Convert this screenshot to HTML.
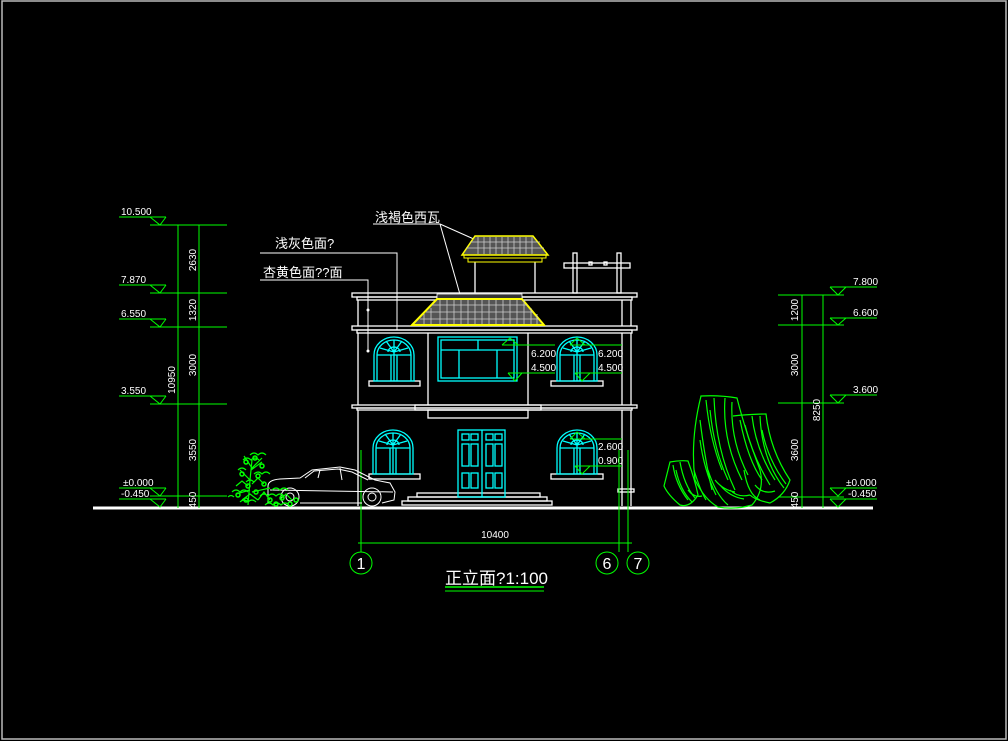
<!DOCTYPE html>
<html><head><meta charset="utf-8"><style>
html,body{margin:0;padding:0;background:#000;width:1008px;height:741px;overflow:hidden}
svg{display:block}
text{font-family:"Liberation Sans","Noto Sans CJK SC",sans-serif;fill:#fff}
</style></head><body>
<svg width="1008" height="741" viewBox="0 0 1008 741" xmlns="http://www.w3.org/2000/svg">
<rect x="0" y="0" width="1008" height="741" fill="#000"/>
<rect x="2" y="1" width="1004" height="738" fill="none" stroke="#bbb" stroke-width="1.5"/>

<line x1="93" y1="508" x2="873" y2="508" stroke="#fff" stroke-width="3"/>

<g stroke="#0f0" stroke-width="1" fill="none">
<line x1="178" y1="225" x2="178" y2="508"/>
<line x1="199" y1="225" x2="199" y2="508"/>
<line x1="150" y1="225" x2="227" y2="225"/>
<line x1="150" y1="293" x2="227" y2="293"/>
<line x1="150" y1="327" x2="227" y2="327"/>
<line x1="150" y1="404" x2="227" y2="404"/>
<line x1="150" y1="496" x2="227" y2="496"/>
<line x1="119" y1="217" x2="166" y2="217"/><path d="M150 217 L160 225 L166 217"/>
<line x1="119" y1="285" x2="166" y2="285"/><path d="M150 285 L160 293 L166 285"/>
<line x1="119" y1="319" x2="166" y2="319"/><path d="M150 319 L160 327 L166 319"/>
<line x1="119" y1="396" x2="166" y2="396"/><path d="M150 396 L160 404 L166 396"/>
<line x1="119" y1="488" x2="166" y2="488"/><path d="M150 488 L160 496 L166 488"/>
<line x1="119" y1="499" x2="166" y2="499"/><path d="M150 499 L160 507 L166 499"/>
</g>
<g font-size="10">
<text x="121" y="215">10.500</text>
<text x="121" y="283">7.870</text>
<text x="121" y="317">6.550</text>
<text x="121" y="394">3.550</text>
<text x="123" y="486">±0.000</text>
<text x="121" y="497">-0.450</text>
<text transform="translate(196,260) rotate(-90)" text-anchor="middle">2630</text>
<text transform="translate(196,310) rotate(-90)" text-anchor="middle">1320</text>
<text transform="translate(196,365) rotate(-90)" text-anchor="middle">3000</text>
<text transform="translate(196,450) rotate(-90)" text-anchor="middle">3550</text>
<text transform="translate(196,500) rotate(-90)" text-anchor="middle">450</text>
<text transform="translate(175,380) rotate(-90)" text-anchor="middle">10950</text>
</g>

<g stroke="#0f0" stroke-width="1" fill="none">
<line x1="802" y1="295" x2="802" y2="508"/>
<line x1="823" y1="295" x2="823" y2="508"/>
<line x1="778" y1="295" x2="844" y2="295"/>
<line x1="778" y1="325" x2="844" y2="325"/>
<line x1="778" y1="403" x2="844" y2="403"/>
<line x1="778" y1="497" x2="844" y2="497"/>
<line x1="830" y1="287" x2="877" y2="287"/><path d="M830 287 L838 295 L846 287"/>
<line x1="830" y1="318" x2="877" y2="318"/><path d="M830 318 L838 325 L846 318"/>
<line x1="830" y1="395" x2="877" y2="395"/><path d="M830 395 L838 403 L846 395"/>
<line x1="830" y1="488" x2="877" y2="488"/><path d="M830 488 L838 496 L846 488"/>
<line x1="830" y1="499" x2="877" y2="499"/><path d="M830 499 L838 507 L846 499"/>
</g>
<g font-size="10">
<text x="853" y="285">7.800</text>
<text x="853" y="316">6.600</text>
<text x="853" y="393">3.600</text>
<text x="846" y="486">±0.000</text>
<text x="848" y="497">-0.450</text>
<text transform="translate(798,310) rotate(-90)" text-anchor="middle">1200</text>
<text transform="translate(798,365) rotate(-90)" text-anchor="middle">3000</text>
<text transform="translate(798,450) rotate(-90)" text-anchor="middle">3600</text>
<text transform="translate(798,500) rotate(-90)" text-anchor="middle">450</text>
<text transform="translate(820,410) rotate(-90)" text-anchor="middle">8250</text>
</g>

<g font-size="13">
<text x="275" y="248">浅灰色面?</text>
<text x="263" y="277">杏黄色面??面</text>
<text x="375" y="222">浅褐色西瓦</text>
</g>
<g stroke="#fff" stroke-width="1" fill="none">
<polyline points="260,253 397,253 397,330"/>
<polyline points="260,280 368,280 368,351"/>
<line x1="373" y1="224" x2="440" y2="224"/>
<line x1="440" y1="224" x2="485" y2="244"/>
<line x1="440" y1="224" x2="463" y2="305"/>
</g>
<circle cx="368" cy="310" r="1.5" fill="#fff"/><circle cx="368" cy="351" r="1.5" fill="#fff"/>

<g stroke="#fff" stroke-width="1.3" fill="none">
<rect x="352" y="293" width="285" height="4"/>
<rect x="357" y="297" width="275" height="3"/>
<rect x="352" y="326" width="285" height="4"/>
<rect x="357" y="330" width="275" height="3"/>
<rect x="352" y="405" width="285" height="3"/>
<rect x="357" y="408" width="275" height="2"/>
<line x1="358" y1="300" x2="358" y2="326"/>
<line x1="622" y1="300" x2="622" y2="326"/>
<line x1="631" y1="300" x2="631" y2="326"/>
<line x1="358" y1="333" x2="358" y2="405"/>
<line x1="622" y1="333" x2="622" y2="405"/>
<line x1="631" y1="333" x2="631" y2="405"/>
<line x1="358" y1="410" x2="358" y2="506"/>
<line x1="622" y1="410" x2="622" y2="506"/>
<line x1="631" y1="410" x2="631" y2="506"/>
<rect x="618" y="489" width="16" height="3"/>
<line x1="428" y1="333" x2="428" y2="405"/>
<line x1="528" y1="333" x2="528" y2="405"/>
<rect x="415" y="405" width="126" height="5"/>
<rect x="428" y="410" width="100" height="8"/>
<rect x="369" y="381" width="51" height="5"/>
<rect x="551" y="381" width="52" height="5"/>
<rect x="369" y="474" width="51" height="5"/>
<rect x="551" y="474" width="52" height="5"/>
<rect x="417" y="493" width="123" height="4"/>
<rect x="408" y="497" width="139" height="4"/>
<rect x="402" y="501" width="150" height="4"/>
<line x1="475" y1="262" x2="475" y2="293"/>
<line x1="535" y1="262" x2="535" y2="293"/>
<rect x="573" y="253" width="4" height="40"/>
<rect x="617" y="253" width="4" height="40"/>
<rect x="564" y="263" width="66" height="5"/>
<rect x="589" y="262" width="3" height="3"/>
<rect x="604" y="262" width="3" height="3"/>
</g>

<g>
<polygon points="462,255 548,255 533,236 475,236" fill="#555" stroke="#ff0" stroke-width="1.5"/>
<g stroke="#ccc" stroke-width="0.8">
<line x1="470" y1="242" x2="540" y2="242"/><line x1="466" y1="248" x2="544" y2="248"/>
<path d="M478 237v17M484 237v17M490 237v17M496 237v17M502 237v17M508 237v17M514 237v17M520 237v17M526 237v17M532 237v17"/>
</g>
<rect x="464" y="255" width="82" height="3" fill="none" stroke="#ff0"/>
<rect x="468" y="258" width="74" height="4" fill="none" stroke="#ff0"/>
</g>
<g>
<rect x="437" y="294" width="85" height="5" fill="#333" stroke="#fff" stroke-width="0.8"/>
<polygon points="412,325 544,325 522,299 437,299" fill="#555" stroke="#ff0" stroke-width="2"/>
<g stroke="#ccc" stroke-width="0.8">
<line x1="432" y1="305" x2="527" y2="305"/><line x1="426" y1="312" x2="533" y2="312"/><line x1="420" y1="319" x2="539" y2="319"/>
<path d="M440 300v24M447 300v24M454 300v24M461 300v24M468 300v24M475 300v24M482 300v24M489 300v24M496 300v24M503 300v24M510 300v24M517 300v24M524 300v24M431 308v16M424 314v10M531 308v16M537 314v10"/>
</g>
</g>

<g stroke="#0ff" stroke-width="1.3" fill="none">
<rect x="438" y="337" width="79" height="44"/>
<rect x="441" y="340" width="73" height="38"/>
<line x1="441" y1="350" x2="514" y2="350"/>
<line x1="478" y1="340" x2="478" y2="350"/>
<line x1="459" y1="350" x2="459" y2="378"/>
<line x1="497" y1="350" x2="497" y2="378"/>
</g>
<g id="win" stroke="#0ff" stroke-width="1.3" fill="none">
<path d="M374 381 V355 A20 18 0 0 1 414 355 V381 Z"/>
<path d="M377 381 V355 A17 15 0 0 1 411 355 V381"/>
<line x1="377" y1="355" x2="411" y2="355"/>
<line x1="394" y1="340" x2="394" y2="381"/>
<line x1="391" y1="381" x2="391" y2="355"/><line x1="397" y1="381" x2="397" y2="355"/>
<path d="M380 348 L394 352 L408 348 M386 341 L394 352 L402 341"/>
<path d="M388 352 A6 5 0 0 1 400 352"/>
</g>
<use href="#win" x="183" y="0"/>
<use href="#win" x="-1" y="93"/>
<use href="#win" x="183" y="93"/>
<g stroke="#0ff" stroke-width="1.3" fill="none">
<rect x="458" y="430" width="47" height="67"/>
<line x1="482" y1="430" x2="482" y2="497"/>
<rect x="462" y="434" width="7" height="6"/><rect x="471" y="434" width="7" height="6"/>
<rect x="486" y="434" width="7" height="6"/><rect x="495" y="434" width="7" height="6"/>
<rect x="462" y="444" width="7" height="22"/><rect x="471" y="444" width="7" height="22"/>
<rect x="486" y="444" width="7" height="22"/><rect x="495" y="444" width="7" height="22"/>
<rect x="462" y="473" width="7" height="15"/><rect x="471" y="473" width="7" height="15"/>
<rect x="486" y="473" width="7" height="15"/><rect x="495" y="473" width="7" height="15"/>
</g>

<g stroke="#0f0" stroke-width="1" fill="none">
<line x1="502" y1="345" x2="555" y2="345"/><path d="M502 345 L510 338 L518 345"/>
<line x1="508" y1="373" x2="555" y2="373"/><path d="M508 373 L515 381 L522 373"/>
<line x1="570" y1="345" x2="622" y2="345"/><path d="M570 345 L577 338 L585 345"/>
<line x1="575" y1="373" x2="622" y2="373"/><path d="M575 373 L582 381 L590 373"/>
<line x1="570" y1="439" x2="622" y2="439"/><path d="M570 439 L577 432 L585 439"/>
<line x1="575" y1="466" x2="622" y2="466"/><path d="M575 466 L582 474 L590 466"/>
</g>
<g font-size="10">
<text x="531" y="357">6.200</text><text x="531" y="371">4.500</text>
<text x="598" y="357">6.200</text><text x="598" y="371">4.500</text>
<text x="598" y="450">2.600</text><text x="598" y="464">0.900</text>
</g>

<g stroke="#0f0" stroke-width="1" fill="none">
<line x1="361" y1="450" x2="361" y2="552"/>
<line x1="619" y1="450" x2="619" y2="552"/>
<line x1="628" y1="450" x2="628" y2="552"/>
<line x1="358" y1="543" x2="632" y2="543"/>
<circle cx="361" cy="563" r="11"/>
<circle cx="607" cy="563" r="11"/>
<circle cx="638" cy="563" r="11"/>
<line x1="445" y1="587" x2="544" y2="587" stroke-width="1.5"/>
<line x1="445" y1="591" x2="544" y2="591"/>
</g>
<text x="495" y="538" font-size="10" text-anchor="middle">10400</text>
<g font-size="16" text-anchor="middle">
<text x="361" y="569">1</text><text x="607" y="569">6</text><text x="638" y="569">7</text>
</g>
<text x="445" y="584" font-size="17">正立面?1:100</text>

<g stroke="#fff" stroke-width="1" fill="none">
<path d="M268 503 V486 Q268 480 280 479 L300 478 L312 470 L340 467 L355 470 L375 480 L390 483 L395 492 L394 500 L382 503 M362 503 H300"/>
<path d="M305 478 L314 471 L338 469 L352 472 L368 480"/>
<line x1="320" y1="470" x2="318" y2="478"/><line x1="340" y1="468" x2="342" y2="480"/>
<line x1="270" y1="490" x2="393" y2="492"/>
<circle cx="290" cy="497" r="9"/><circle cx="290" cy="497" r="4"/>
<circle cx="372" cy="497" r="9"/><circle cx="372" cy="497" r="4"/>
</g>

<g stroke="#0f0" stroke-width="1.2" fill="none">
<path d="M248 505 L250 480 L252 460 M250 480 L240 470 M251 470 L262 462 M250 490 L236 494 M252 492 L270 488 M244 456 L252 468 L262 458"/>
<path d="M243 460 q4 -4 8 0 q4 -4 8 0 M238 470 q4 -4 8 0 M254 474 q4 -4 8 0 q4-4 8 0 M232 492 q4 -4 8 0 q4-4 8 0 M246 482 q4 -4 8 0 M260 496 q4-4 8 0 q4-4 8 0 q4-4 8 0 M240 502 q4-4 8 0 q4-4 8 0 M265 505 q4-4 8 0 q4-4 8 0 q4-4 8 0 M250 455 q4-4 8 0 q4-4 8 0 M228 497 q3-3 6 0 M272 490 q4-4 8 0 q4-4 8 0"/>
<path d="M242 500 l8 -6 l8 6 M258 500 l6 -8 l6 8 M280 500 l6 -6 l6 6 M236 486 l6-5 l6 5 M252 484 l6-6 l6 6"/>
</g>
<g fill="none" stroke="#0f0" stroke-width="1.5">
<circle cx="246" cy="462" r="2"/><circle cx="255" cy="458" r="2"/><circle cx="262" cy="466" r="2"/>
<circle cx="242" cy="474" r="2"/><circle cx="258" cy="476" r="2"/><circle cx="248" cy="486" r="2"/>
<circle cx="238" cy="495" r="2"/><circle cx="256" cy="492" r="2"/><circle cx="264" cy="484" r="2"/>
<circle cx="246" cy="500" r="2"/><circle cx="270" cy="500" r="2"/><circle cx="282" cy="498" r="2"/>
<circle cx="276" cy="504" r="2"/><circle cx="290" cy="504" r="2"/><circle cx="296" cy="500" r="2"/>
</g>

<g stroke="#0f0" stroke-width="1.2" fill="none">
<path d="M701 396 Q720 395 737 398 Q745 430 760 470 Q765 490 752 505 Q735 510 718 507 Q705 500 695 480 Q690 440 701 396 Z"/>
<path d="M733 416 Q752 414 766 414 Q770 450 790 480 Q785 495 770 503 Q755 500 750 495"/>
<path d="M670 462 Q680 460 688 461 Q695 480 698 495 Q690 508 680 505 Q668 495 664 486 Z"/>
<path d="M706 400 Q710 440 722 470 M714 398 Q716 450 735 490 M725 398 Q722 440 742 480 M700 420 Q705 460 712 490 M740 420 Q748 460 762 480 M752 416 Q756 450 775 480 M760 416 Q762 460 784 488 M673 465 Q676 485 688 500 M680 462 Q684 485 695 498 M708 470 Q716 495 728 505 M744 470 Q748 495 760 500 M694 470 Q700 490 706 500"/>
<path d="M715 480 q8 10 20 12 M730 490 q8 8 20 5 M688 490 q6 8 14 6 M755 485 q8 10 20 6"/>
<path d="M710 410 Q714 450 728 480 M732 402 Q730 440 748 475 M745 425 Q752 455 770 485 M700 440 Q704 470 716 495 M676 470 Q680 490 692 502 M720 485 q10 12 24 14 M762 430 Q768 460 786 484"/>
</g>
</svg>
</body></html>
